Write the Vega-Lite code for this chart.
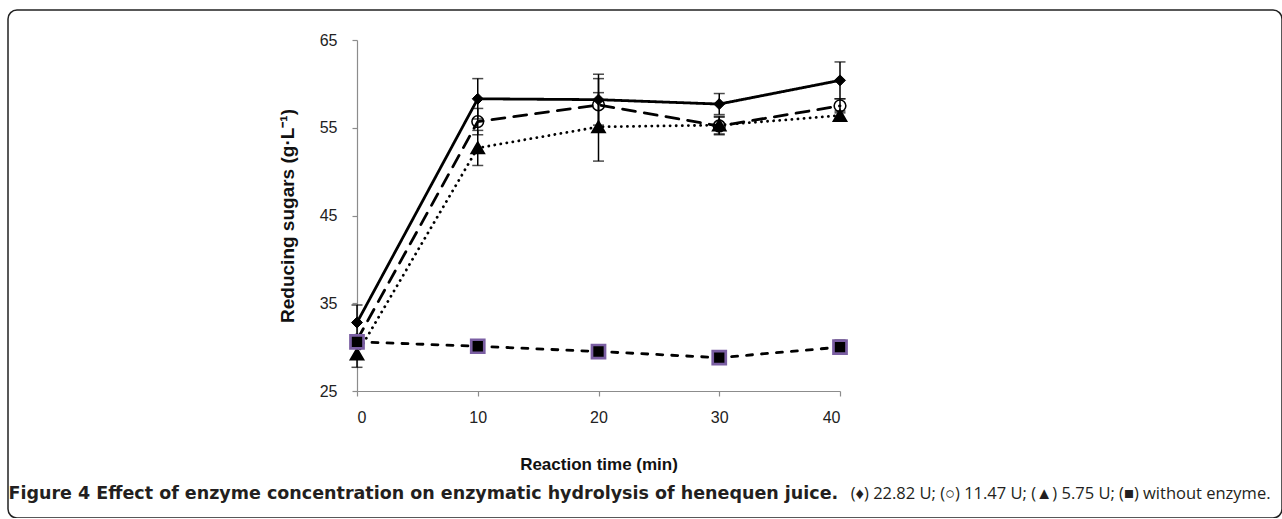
{
  "$schema": "https://vega.github.io/schema/vega-lite/v6.json",
  "width": 1274,
  "height": 508,
  "autosize": {"type": "none"},
  "padding": {"left": 8, "top": 10, "right": 0, "bottom": 0},
  "background": "white",
  "config": {
    "view": {"stroke": "#222222", "strokeWidth": 1.5, "cornerRadius": 9},
    "font": "Liberation Sans",
    "axis": {
      "grid": false,
      "domainColor": "#8c8c8c",
      "domainWidth": 1.2,
      "tickColor": "#8c8c8c",
      "tickWidth": 1.2,
      "tickSize": 5,
      "labelFont": "Liberation Sans",
      "labelFontSize": 16,
      "labelColor": "#222222",
      "titleFont": "Liberation Sans",
      "titleFontSize": 17,
      "titleFontWeight": "bold",
      "titleColor": "#111111"
    }
  },
  "data": {
    "values": [
      {"series": "22.82 U", "time": 0, "value": 32.8, "err": 2.0},
      {"series": "22.82 U", "time": 10, "value": 58.3, "err": 2.3},
      {"series": "22.82 U", "time": 20, "value": 58.2, "err": 2.9},
      {"series": "22.82 U", "time": 30, "value": 57.7, "err": 1.2},
      {"series": "22.82 U", "time": 40, "value": 60.4, "err": 2.1},
      {"series": "11.47 U", "time": 0, "value": 30.8, "err": 0.5},
      {"series": "11.47 U", "time": 10, "value": 55.7, "err": 1.5},
      {"series": "11.47 U", "time": 20, "value": 57.6, "err": 3.0},
      {"series": "11.47 U", "time": 30, "value": 55.2, "err": 1.0},
      {"series": "11.47 U", "time": 40, "value": 57.5, "err": 0.8},
      {"series": "5.75 U", "time": 0, "value": 29.2, "err": 1.5},
      {"series": "5.75 U", "time": 10, "value": 52.7, "err": 2.0},
      {"series": "5.75 U", "time": 20, "value": 55.1, "err": 3.9},
      {"series": "5.75 U", "time": 30, "value": 55.3, "err": 1.0},
      {"series": "5.75 U", "time": 40, "value": 56.4, "err": 0.5},
      {"series": "without enzyme", "time": 0, "value": 30.6, "err": 0.4},
      {"series": "without enzyme", "time": 10, "value": 30.1, "err": 0.5},
      {"series": "without enzyme", "time": 20, "value": 29.5, "err": 0.6},
      {"series": "without enzyme", "time": 30, "value": 28.8, "err": 0.3},
      {"series": "without enzyme", "time": 40, "value": 30.0, "err": 0.8}
    ]
  },
  "layer": [
    {
      "layer": [
        {
          "mark": {"type": "line", "color": "black", "strokeWidth": 2.8, "strokeCap": "round", "strokeJoin": "round"},
          "encoding": {
            "x": {
              "field": "time", "type": "quantitative",
              "scale": {"domain": [0, 40], "range": [349, 832], "nice": false, "zero": false},
              "axis": {"orient": "bottom", "offset": -127, "values": [0, 10, 20, 30, 40], "labelPadding": 13, "titlePadding": 31, "title": "Reaction time (min)"}
            },
            "y": {
              "field": "value", "type": "quantitative",
              "scale": {"domain": [25, 65], "range": [381, 30], "nice": false, "zero": false},
              "axis": {"orient": "left", "offset": -349, "values": [25, 35, 45, 55, 65], "labelPadding": 15, "titlePadding": 22, "titleFontSize": 19, "title": "Reducing sugars (g·L⁻¹)"}
            },
            "detail": {"field": "series"},
            "strokeDash": {
              "field": "series", "type": "nominal",
              "scale": {"domain": ["22.82 U", "11.47 U", "5.75 U", "without enzyme"], "range": [[1, 0], [13, 9], [0.1, 6], [6, 9]]},
              "legend": null
            }
          }
        },
        {
          "mark": {"type": "errorbar", "color": "black", "thickness": 1.5, "ticks": {"size": 11, "color": "black", "thickness": 1.5}},
          "encoding": {
            "x": {"field": "time", "type": "quantitative"},
            "y": {"field": "value", "type": "quantitative", "title": "Reducing sugars (g·L⁻¹)"},
            "yError": {"field": "err"},
            "detail": {"field": "series"}
          }
        }
      ]
    },
    {
      "mark": {"type": "point", "opacity": 1},
      "encoding": {
        "x": {
          "field": "time", "type": "quantitative",
          "scale": {"domain": [0, 40], "range": [349, 832], "nice": false, "zero": false},
          "axis": {
            "orient": "top", "domain": false, "ticks": false, "labels": false, "grid": false,
            "title": "Figure 4 Effect of enzyme concentration on enzymatic hydrolysis of henequen juice.",
            "titleX": 0, "titleY": 488, "titleAlign": "left", "titleAnchor": "start", "titleBaseline": "alphabetic",
            "titleFont": "DejaVu Sans", "titleFontSize": 17.5, "titleFontWeight": "bold", "titleColor": "#231f20"
          }
        },
        "y": {
          "field": "value", "type": "quantitative",
          "scale": {"domain": [25, 65], "range": [381, 30], "nice": false, "zero": false},
          "axis": {
            "orient": "right", "domain": false, "ticks": false, "labels": false, "grid": false,
            "title": "(♦) 22.82 U; (○) 11.47 U; (▲) 5.75 U; (■) without enzyme.",
            "titleAngle": 0, "titleX": -12, "titleY": 488, "titleAlign": "right", "titleAnchor": "end", "titleBaseline": "alphabetic",
            "titleFont": "Open Sans", "titleFontSize": 16.5, "titleFontWeight": "normal", "titleColor": "#231f20"
          }
        },
        "shape": {
          "field": "series", "type": "nominal",
          "scale": {"domain": ["22.82 U", "11.47 U", "5.75 U", "without enzyme"], "range": ["diamond", "circle", "triangle-up", "square"]},
          "legend": null
        },
        "fill": {
          "field": "series", "type": "nominal",
          "scale": {"domain": ["22.82 U", "11.47 U", "5.75 U", "without enzyme"], "range": ["black", "transparent", "black", "black"]},
          "legend": null
        },
        "stroke": {
          "field": "series", "type": "nominal",
          "scale": {"domain": ["22.82 U", "11.47 U", "5.75 U", "without enzyme"], "range": ["black", "black", "black", "#7b5fa3"]},
          "legend": null
        },
        "size": {
          "field": "series", "type": "nominal",
          "scale": {"domain": ["22.82 U", "11.47 U", "5.75 U", "without enzyme"], "range": [120, 170, 60, 75]},
          "legend": null
        },
        "strokeWidth": {
          "field": "series", "type": "nominal",
          "scale": {"domain": ["22.82 U", "11.47 U", "5.75 U", "without enzyme"], "range": [1, 2.7, 1, 1.5]},
          "legend": null
        }
      }
    }
  ],
  "resolve": {"scale": {"x": "independent", "y": "independent"}}
}
